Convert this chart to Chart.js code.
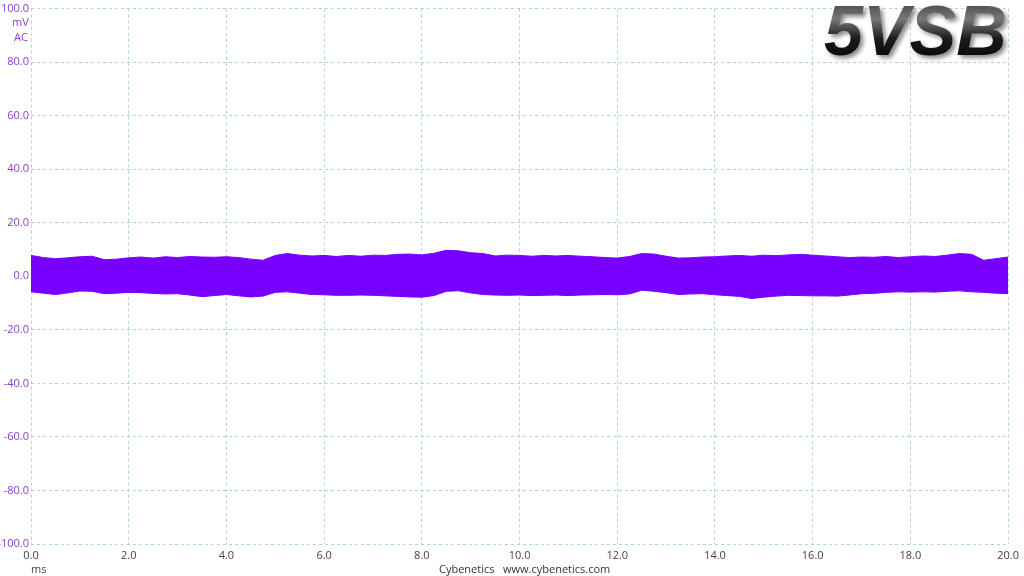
<!DOCTYPE html>
<html>
<head>
<meta charset="utf-8">
<script src="https://cdn.jsdelivr.net/npm/chart.js@4"></script>
<style>
  html, body { margin: 0; padding: 0; background: #fff; }
  #caja { position: relative; width: 1024px; height: 576px; }
  .txt { position: absolute; font-family: "Open Sans", sans-serif; font-size: 11px; white-space: pre; }
  #titulo {
    position: absolute; left: 824px; top: -9px;
    font-family: "Liberation Sans", Arial, sans-serif; font-weight: bold; font-style: italic;
    font-size: 70px; letter-spacing: 0px;
    background: linear-gradient(180deg, #2a2a2a 0%, #777 35%, #1a1a1a 60%, #000 100%);
    -webkit-background-clip: text; background-clip: text; color: transparent;
    filter: drop-shadow(3px 3px 2px rgba(0,0,0,0.45));
  }
</style>
</head>
<body>
<div id="caja">
  <canvas id="grafico" width="1024" height="576"></canvas>
  <div class="txt" style="left:12px; top:14px; color:#8a3fd0;">mV</div>
  <div class="txt" style="left:14px; top:29px; color:#8a3fd0;">AC</div>
  <div class="txt" style="left:31px; top:561px; color:#444;">ms</div>
  <div class="txt" style="left:439px; top:561px; color:#333;">Cybenetics   www.cybenetics.com</div>
  <div id="titulo">5VSB</div>
</div>
<script>
// tiempo en ms (cada 0.25 ms)
const tiempo = [];
for (let i = 0; i <= 80; i++) tiempo.push(i * 0.25);

// envolvente superior del ripple (mV)
const maximo = [
  7.8, 7.0, 6.6, 6.9, 7.3, 7.5, 6.2, 6.4, 6.9, 7.2,
  6.8, 7.3, 7.0, 7.4, 7.2, 7.1, 7.3, 7.0, 6.4, 6.0,
  7.8, 8.5, 7.9, 7.6, 7.8, 7.4, 7.8, 7.5, 7.9, 7.8,
  8.2, 8.3, 8.0, 8.6, 9.7, 9.5, 8.8, 8.5, 7.6, 7.9,
  7.8, 7.5, 7.8, 7.6, 7.8, 7.5, 7.3, 7.0, 6.8, 7.4,
  8.5, 8.3, 7.5, 6.8, 6.9, 7.2, 7.3, 7.6, 7.8, 7.5,
  7.9, 7.7, 8.0, 8.2, 7.9, 7.6, 7.3, 7.0, 7.2, 7.1,
  7.4, 7.0, 7.3, 7.6, 7.4, 7.9, 8.5, 8.2, 6.0, 6.6,
  7.2
];

// envolvente inferior del ripple (mV)
const minimo = [
  -5.8, -6.3, -6.8, -6.2, -5.5, -5.6, -6.5, -6.3, -6.0, -6.1,
  -6.4, -6.6, -6.5, -7.0, -7.6, -7.2, -6.8, -7.3, -7.7, -7.4,
  -6.0, -5.8, -6.3, -6.8, -6.9, -7.1, -7.1, -7.0, -7.1, -7.3,
  -7.5, -7.7, -7.8, -7.2, -5.6, -5.4, -6.2, -6.8, -7.0, -7.1,
  -7.0, -7.2, -7.1, -7.0, -7.2, -7.0, -6.9, -6.8, -6.9, -6.6,
  -5.2, -5.6, -6.1, -6.8, -6.6, -6.5, -6.9, -7.2, -7.5, -8.3,
  -7.8, -7.4, -7.1, -7.2, -7.3, -7.3, -7.4, -7.0, -6.5, -6.4,
  -6.0, -5.8, -5.9, -5.8, -5.9, -5.6, -5.4, -5.8, -6.0, -6.3,
  -6.5
];

const morado = '#7700ff';
const rejilla = '#a9d6e2';

function puntos(valores) {
  return tiempo.map((t, i) => ({ x: t, y: valores[i] }));
}

const ctx = document.getElementById('grafico');
const grafico = new Chart(ctx, {
  type: 'line',
  data: {
    datasets: [{
      label: 'max',
      data: puntos(maximo),
      borderColor: morado,
      backgroundColor: morado,
      borderWidth: 1,
      pointRadius: 0,
      tension: 0,
      fill: '+1'
    }, {
      label: 'min',
      data: puntos(minimo),
      borderColor: morado,
      backgroundColor: morado,
      borderWidth: 1,
      pointRadius: 0,
      tension: 0,
      fill: false
    }]
  },
  options: {
    responsive: false,
    animation: false,
    layout: { padding: { top: 8, right: 10, left: 0, bottom: 0 } },
    plugins: { legend: { display: false }, tooltip: { enabled: false } },
    scales: {
      x: {
        type: 'linear',
        min: 0, max: 20,
        border: { display: false, dash: [3, 3] },
        grid: { color: rejilla, lineWidth: 1, drawTicks: false },
        ticks: {
          stepSize: 2, padding: 5, color: '#444',
          font: { family: 'Open Sans', size: 11 },
          maxRotation: 0,
          callback: v => v.toFixed(1)
        },
        afterFit: s => { s.height = 32; }
      },
      y: {
        min: -100, max: 100,
        border: { display: false, dash: [3, 3] },
        grid: { color: rejilla, lineWidth: 1, drawTicks: false },
        ticks: {
          stepSize: 20, padding: 2, color: '#8a3fd0',
          font: { family: 'Open Sans', size: 11 },
          callback: v => v.toFixed(1)
        },
        afterFit: s => { s.width = 31; }
      }
    }
  }
});
</script>
</body>
</html>
